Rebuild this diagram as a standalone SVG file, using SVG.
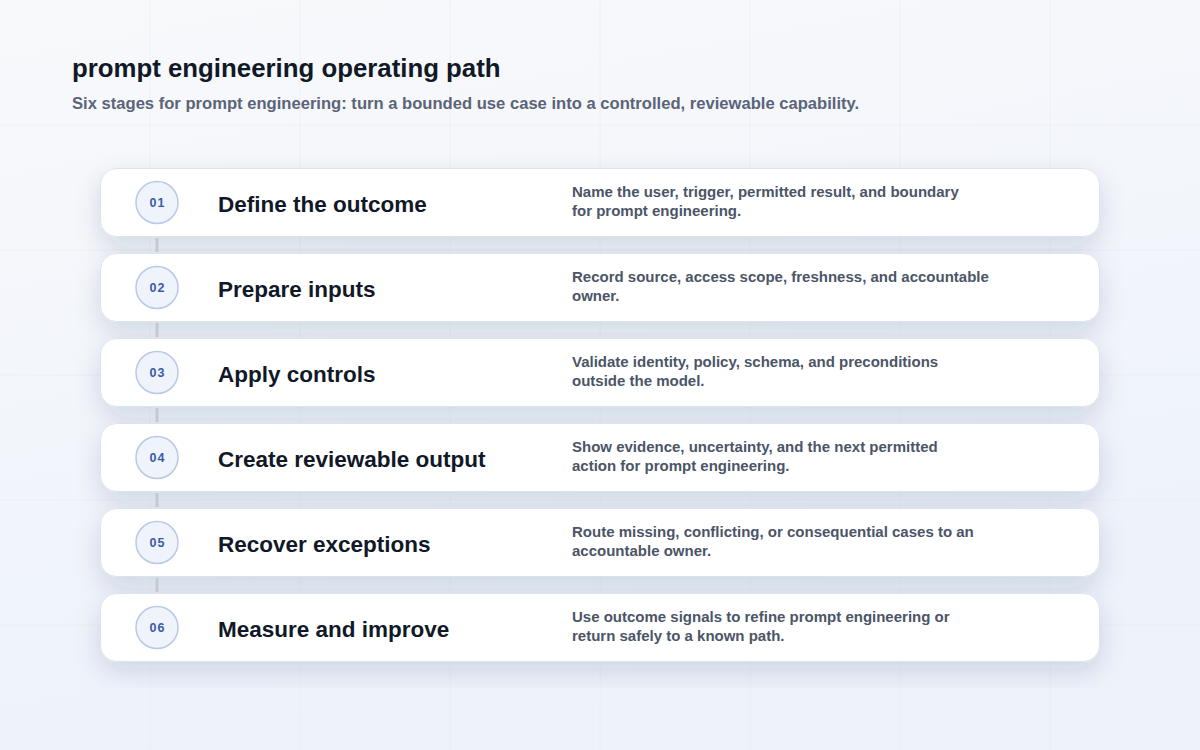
<svg xmlns="http://www.w3.org/2000/svg" width="1200" height="750" viewBox="0 0 1200 750">
<defs>
<linearGradient id="bg" x1="0" y1="0" x2="0.3" y2="1">
<stop offset="0" stop-color="#f8f9fb"/>
<stop offset="1" stop-color="#edf2fb"/>
</linearGradient>
<filter id="sh" filterUnits="userSpaceOnUse" x="40" y="120" width="1120" height="568">
<feGaussianBlur in="SourceAlpha" stdDeviation="13"/>
<feOffset dy="10" result="b"/>
<feFlood flood-color="#1e2b4d" flood-opacity="0.14"/>
<feComposite in2="b" operator="in" result="s"/>
<feMerge><feMergeNode in="s"/><feMergeNode in="SourceGraphic"/></feMerge>
</filter>
</defs>
<style>
.grid{stroke:#e9edf3;stroke-width:1;fill:none;opacity:0.7}
.card{fill:#ffffff;stroke:#dde3ee;stroke-width:1}
.badge{fill:#eef3fc;stroke:#b9c9e6;stroke-width:1.5}
.num{font-family:"Liberation Sans",Arial,sans-serif;font-size:12.5px;font-weight:700;fill:#3a5aa8;text-anchor:middle;letter-spacing:1px}
.ttl{font-family:"Liberation Sans",Arial,sans-serif;font-size:22.5px;font-weight:700;fill:#111827}
.desc{font-family:"Liberation Sans",Arial,sans-serif;font-size:15px;font-weight:700;fill:#4b5567}
.conn{stroke:#c5c9d1;stroke-width:3}
</style>
<rect width="1200" height="750" fill="url(#bg)"/>
<g id="grid" class="grid">
<path d="M150 0V750M300 0V750M450 0V750M600 0V750M750 0V750M900 0V750M1050 0V750M0 125H1200M0 250H1200M0 375H1200M0 500H1200M0 625H1200"/>
</g>
<text x="72" y="77" font-family="Liberation Sans, Arial, sans-serif" font-size="25.8" font-weight="700" fill="#111827">prompt engineering operating path</text>
<text x="72" y="109" font-family="Liberation Sans, Arial, sans-serif" font-size="16.6" font-weight="700" fill="#5b6478">Six stages for prompt engineering: turn a bounded use case into a controlled, reviewable capability.</text>
<g filter="url(#sh)">
<rect class="card" x="100.5" y="168.5" width="999" height="68" rx="16"/>
<rect class="card" x="100.5" y="253.5" width="999" height="68" rx="16"/>
<rect class="card" x="100.5" y="338.5" width="999" height="68" rx="16"/>
<rect class="card" x="100.5" y="423.5" width="999" height="68" rx="16"/>
<rect class="card" x="100.5" y="508.5" width="999" height="68" rx="16"/>
<rect class="card" x="100.5" y="593.5" width="999" height="68" rx="16"/>
</g>
<g id="connectors">
<line class="conn" x1="157" y1="238" x2="157" y2="252"/>
<line class="conn" x1="157" y1="323" x2="157" y2="337"/>
<line class="conn" x1="157" y1="408" x2="157" y2="422"/>
<line class="conn" x1="157" y1="493" x2="157" y2="507"/>
<line class="conn" x1="157" y1="578" x2="157" y2="592"/>
</g>
<g id="step1">
<circle class="badge" cx="157" cy="202.5" r="21"/>
<text class="num" x="157.5" y="207">01</text>
<text class="ttl" x="218" y="212">Define the outcome</text>
<text class="desc" x="572" y="196.5">Name the user, trigger, permitted result, and boundary</text>
<text class="desc" x="572" y="215.5">for prompt engineering.</text>
</g>
<g id="step2">
<circle class="badge" cx="157" cy="287.5" r="21"/>
<text class="num" x="157.5" y="292">02</text>
<text class="ttl" x="218" y="297">Prepare inputs</text>
<text class="desc" x="572" y="281.5">Record source, access scope, freshness, and accountable</text>
<text class="desc" x="572" y="300.5">owner.</text>
</g>
<g id="step3">
<circle class="badge" cx="157" cy="372.5" r="21"/>
<text class="num" x="157.5" y="377">03</text>
<text class="ttl" x="218" y="382">Apply controls</text>
<text class="desc" x="572" y="366.5">Validate identity, policy, schema, and preconditions</text>
<text class="desc" x="572" y="385.5">outside the model.</text>
</g>
<g id="step4">
<circle class="badge" cx="157" cy="457.5" r="21"/>
<text class="num" x="157.5" y="462">04</text>
<text class="ttl" x="218" y="467">Create reviewable output</text>
<text class="desc" x="572" y="451.5">Show evidence, uncertainty, and the next permitted</text>
<text class="desc" x="572" y="470.5">action for prompt engineering.</text>
</g>
<g id="step5">
<circle class="badge" cx="157" cy="542.5" r="21"/>
<text class="num" x="157.5" y="547">05</text>
<text class="ttl" x="218" y="552">Recover exceptions</text>
<text class="desc" x="572" y="536.5">Route missing, conflicting, or consequential cases to an</text>
<text class="desc" x="572" y="555.5">accountable owner.</text>
</g>
<g id="step6">
<circle class="badge" cx="157" cy="627.5" r="21"/>
<text class="num" x="157.5" y="632">06</text>
<text class="ttl" x="218" y="637">Measure and improve</text>
<text class="desc" x="572" y="621.5">Use outcome signals to refine prompt engineering or</text>
<text class="desc" x="572" y="640.5">return safely to a known path.</text>
</g>
</svg>
